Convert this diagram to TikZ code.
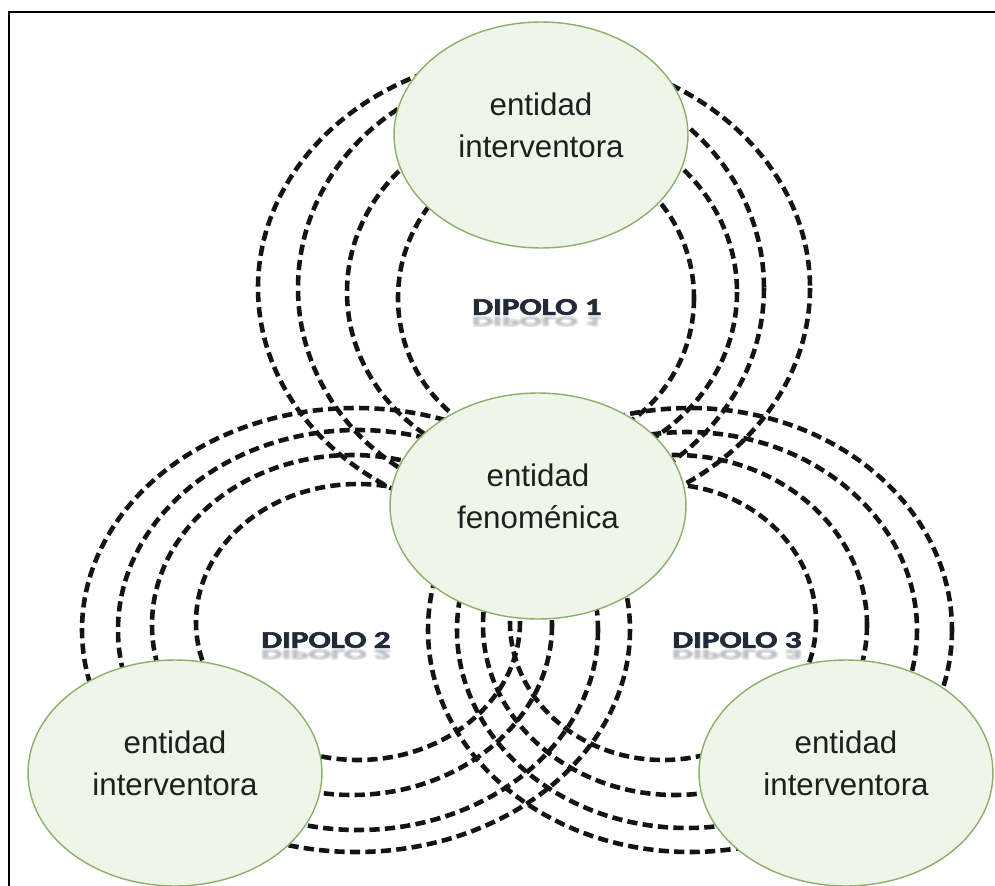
\documentclass[tikz,border=0pt]{standalone}
\usepackage{fontspec}
\setmainfont{Liberation Sans}
\newfontfamily\dipfont{Carlito}[BoldFeatures={FakeBold=2.2}]
\usetikzlibrary{shapes.geometric}

\definecolor{entfill}{HTML}{EFF5E8}
\definecolor{entline}{HTML}{8DAF6C}
\definecolor{dipnavy}{HTML}{222A3A}

\tikzset{
  entity/.style={ellipse, draw=entline, line width=0.8pt, fill=entfill,
    minimum width=5.88cm, minimum height=4.52cm, inner sep=0pt},
  entitytext/.style={align=center, inner sep=0pt,
    font=\fontsize{17.8}{23.9}\selectfont, text=black!88},
  wave/.style={draw=black!92, line width=2.6pt, dash pattern=on 5.8pt off 3pt},
  diplabel/.style={text=dipnavy, inner sep=0pt},
  dipshadow/.style={text=dipnavy!70, inner sep=0pt, opacity=0.07, anchor=north},
}

\newcommand{\diptext}[1]{\dipfont\bfseries\fontsize{13.6}{14}\selectfont DIPOLO #1}

% a label and a soft mirrored copy beneath it
\newcommand{\dipole}[3]{%
  \node[diplabel] (#1) at (#2) {\scalebox{1.38}[1]{\diptext{#3}}};
  \foreach \dx/\dy in {-0.02/0, 0.02/0, 0/-0.02, 0/-0.05, -0.03/-0.04, 0.03/-0.04} {
    \node[dipshadow] at ([xshift=\dx cm, yshift=\dy cm]#1.south)
      {\scalebox{1.38}[-0.55]{\diptext{#3}}};
  }
}

\begin{document}
\begin{tikzpicture}[x=0.02cm, y=-0.02cm]
\useasboundingbox (0,0) rectangle (995,886);
\fill[white] (0,0) rectangle (995,886);

% field lines of dipole 1 (upper pair)
\draw[wave] (534,288) ellipse [x radius=276, y radius=234];
\draw[wave] (531,288) ellipse [x radius=233, y radius=218];
\draw[wave] (542,292) ellipse [x radius=195, y radius=178];
\draw[wave] (546,298) ellipse [x radius=148, y radius=150];

% field lines of dipole 2 (left pair)
\draw[wave] (356,630) ellipse [x radius=274, y radius=222];
\draw[wave] (358,630) ellipse [x radius=240, y radius=200];
\draw[wave] (352,625) ellipse [x radius=200, y radius=170];
\draw[wave] (358,622) ellipse [x radius=162, y radius=138];

% field lines of dipole 3 (right pair)
\draw[wave] (690,630) ellipse [x radius=262, y radius=222];
\draw[wave] (687,630) ellipse [x radius=230, y radius=198];
\draw[wave] (675,625) ellipse [x radius=192, y radius=170];
\draw[wave] (663,622) ellipse [x radius=153, y radius=138];

% entities
\node[entity] (top) at (541,135) {};
\node[entity, minimum width=5.92cm] (mid) at (538,506) {};
\node[entity] (bl) at (175,773) {};
\node[entity] (br) at (846,773) {};

\node[entitytext] (toptxt) at ([yshift=0.2cm]top.center) {entidad\\interventora};
\node[entitytext] (midtxt) at ([yshift=0.2cm]mid.center) {entidad\\fenoménica};
\node[entitytext] (bltxt) at ([yshift=0.2cm]bl.center) {entidad\\interventora};
\node[entitytext] (brtxt) at ([yshift=0.2cm]br.center) {entidad\\interventora};

% dipole labels
\dipole{d1}{537,307}{1}
\dipole{d2}{326,640}{2}
\dipole{d3}{737,640}{3}

% frame edges
\draw[line width=1.6pt] (9,886) -- (9,12) -- (995,12);
\end{tikzpicture}
\end{document}
